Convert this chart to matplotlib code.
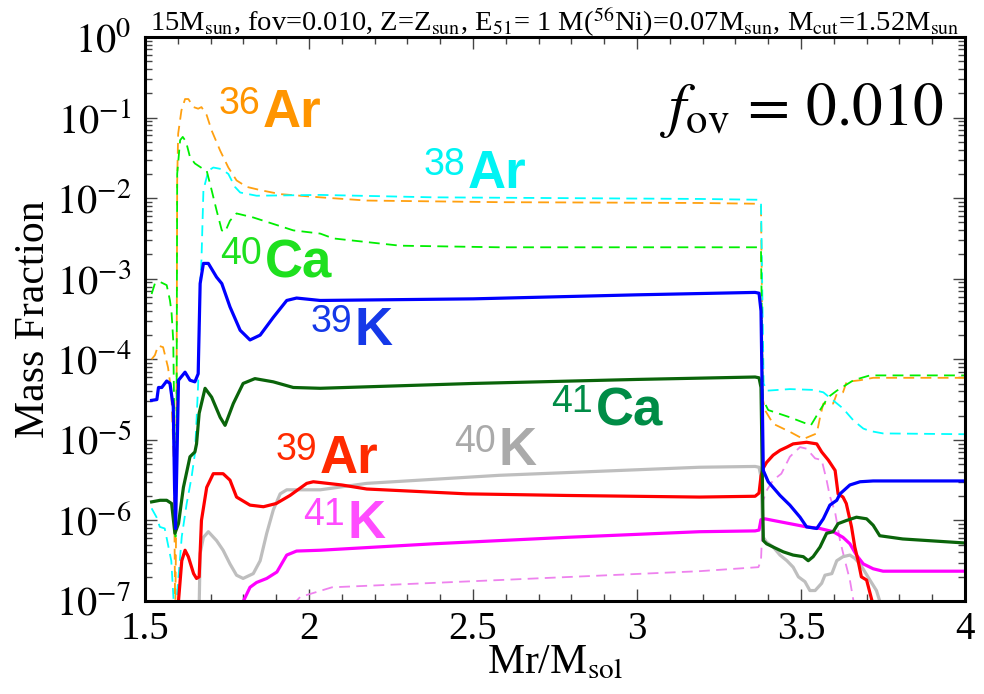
import numpy as np
import matplotlib
matplotlib.use('Agg')
import matplotlib.pyplot as plt
from matplotlib.ticker import MultipleLocator, FixedLocator, NullFormatter

plt.rcParams['font.family'] = 'serif'
plt.rcParams['font.serif'] = ['Liberation Serif', 'DejaVu Serif']
plt.rcParams['mathtext.fontset'] = 'stix'

# mass coordinate [Msun] and log10(mass fraction)
k39_x = [1.52, 1.536, 1.541, 1.551, 1.566, 1.576, 1.586, 1.590, 1.593, 1.597, 1.602, 1.622, 1.637,
         1.652, 1.662, 1.668, 1.678, 1.693, 1.718, 1.734, 1.759, 1.790, 1.820, 1.851, 1.891, 1.932,
         1.962, 2.034, 2.5, 3.0, 3.36, 3.372, 3.378, 3.385, 3.40, 3.436, 3.466, 3.497, 3.517, 3.548,
         3.568, 3.588, 3.609, 3.619, 3.649, 3.68, 3.72, 3.8, 4.0]
k39_log = [-4.51, -4.50, -4.35, -4.35, -4.27, -4.30, -4.59, -5.6, -6.10, -5.3, -4.26, -4.16, -4.26,
           -4.28, -4.18, -3.06, -2.81, -2.81, -2.98, -3.06, -3.35, -3.64, -3.76, -3.70, -3.48, -3.27,
           -3.24, -3.27, -3.25, -3.20, -3.17, -3.18, -3.40, -5.38, -5.52, -5.69, -5.81, -5.96, -6.08, -6.10,
           -5.98, -5.81, -5.75, -5.67, -5.56, -5.52, -5.51, -5.51, -5.51]

ca41_x = [1.52, 1.546, 1.566, 1.581, 1.591, 1.602, 1.617, 1.637, 1.652, 1.657, 1.665, 1.683, 1.703,
          1.729, 1.744, 1.769, 1.799, 1.835, 1.891, 1.952, 2.034, 2.5, 3.0, 3.36, 3.372, 3.378, 3.385,
          3.395, 3.415, 3.446, 3.476, 3.507, 3.522, 3.537, 3.558, 3.578, 3.598, 3.613, 3.639, 3.669,
          3.70, 3.72, 3.74, 3.81, 4.0]
ca41_log = [-5.77, -5.75, -5.75, -5.79, -6.16, -6.04, -5.59, -5.21, -5.15, -5.05, -4.67, -4.36, -4.47,
            -4.72, -4.82, -4.55, -4.30, -4.24, -4.28, -4.35, -4.36, -4.30, -4.25, -4.22, -4.23, -4.35, -6.25,
            -6.29, -6.33, -6.39, -6.43, -6.45, -6.50, -6.45, -6.33, -6.16, -6.14, -6.04, -6.00, -5.96,
            -5.98, -6.06, -6.19, -6.23, -6.28]

ar39_x = [1.598, 1.602, 1.612, 1.622, 1.632, 1.648, 1.657, 1.665, 1.672, 1.688, 1.708, 1.738, 1.759,
          1.779, 1.820, 1.861, 1.900, 1.942, 1.993, 2.013, 2.10, 2.176, 2.48, 2.785, 3.19, 3.36, 3.372,
          3.378, 3.385, 3.395, 3.415, 3.436, 3.457, 3.476, 3.517, 3.548, 3.563, 3.583, 3.604, 3.613,
          3.628, 3.638, 3.654, 3.664, 3.674, 3.684, 3.70, 3.716, 3.73]
ar39_log = [-7.5, -7.0, -6.50, -6.37, -6.45, -6.66, -6.72, -6.70, -6.00, -5.59, -5.42, -5.42, -5.50,
            -5.71, -5.81, -5.83, -5.79, -5.69, -5.54, -5.52, -5.56, -5.61, -5.67, -5.69, -5.71, -5.70, -5.66,
            -5.45, -5.35, -5.28, -5.19, -5.13, -5.09, -5.05, -5.03, -5.05, -5.15, -5.25, -5.38, -5.67,
            -5.71, -5.79, -6.08, -6.33, -6.50, -6.70, -6.74, -6.99, -7.5]

k40_x = [1.663, 1.668, 1.678, 1.693, 1.718, 1.738, 1.759, 1.779, 1.799, 1.830, 1.851, 1.871, 1.891,
         1.912, 1.932, 2.034, 2.176, 2.58, 3.19, 3.36, 3.372, 3.378, 3.382, 3.385, 3.395, 3.415, 3.436,
         3.457, 3.476, 3.492, 3.512, 3.527, 3.543, 3.563, 3.573, 3.594, 3.609, 3.628, 3.649, 3.664,
         3.68, 3.695, 3.71, 3.73, 3.74, 3.75]
k40_log = [-7.5, -6.41, -6.21, -6.14, -6.25, -6.37, -6.54, -6.68, -6.72, -6.66, -6.50, -6.16, -5.87,
           -5.67, -5.62, -5.62, -5.54, -5.44, -5.34, -5.33, -5.34, -5.46, -6.0, -6.21, -6.27, -6.33, -6.43,
           -6.50, -6.58, -6.70, -6.76, -6.87, -6.87, -6.78, -6.68, -6.66, -6.50, -6.45, -6.43, -6.47,
           -6.54, -6.64, -6.74, -6.87, -7.0, -7.3]

k41_x = [1.795, 1.80, 1.82, 1.84, 1.871, 1.902, 1.932, 1.962, 2.034, 2.379, 2.785, 3.19, 3.36, 3.372,
         3.378, 3.39, 3.415, 3.466, 3.517, 3.558, 3.598, 3.628, 3.649, 3.669, 3.69, 3.72, 3.75, 4.0]
k41_log = [-7.5, -7.0, -6.83, -6.77, -6.72, -6.64, -6.43, -6.38, -6.37, -6.29, -6.21, -6.14, -6.13, -6.12,
           -5.99, -5.98, -6.00, -6.04, -6.08, -6.10, -6.14, -6.21, -6.29, -6.43, -6.54, -6.60, -6.63, -6.63]

ar36_x = [1.52, 1.53, 1.54, 1.555, 1.57, 1.58, 1.588, 1.592, 1.595, 1.598, 1.601, 1.611, 1.622, 1.632,
          1.648, 1.662, 1.672, 1.688, 1.703, 1.729, 1.754, 1.779, 1.81, 1.851, 1.912, 2.034, 2.176,
          2.58, 3.19, 3.37, 3.378, 3.384, 3.39, 3.415, 3.466, 3.507, 3.548, 3.558, 3.568, 3.583, 3.598,
          3.609, 3.628, 3.639, 3.68, 3.72, 4.0]
ar36_log = [-4.0, -3.95, -3.83, -3.85, -4.1, -4.4, -5.3, -7.2, -6.0, -1.78, -1.20, -0.91, -0.77, -0.77,
            -0.87, -0.89, -0.87, -0.97, -1.16, -1.41, -1.62, -1.78, -1.86, -1.90, -1.95, -1.99, -2.03,
            -2.05, -2.06, -2.07, -2.1, -4.5, -4.63, -4.80, -4.90, -4.99, -4.92, -4.72, -4.55, -4.55, -4.55,
            -4.43, -4.41, -4.28, -4.26, -4.23, -4.23]

ca40_x = [1.52, 1.53, 1.546, 1.566, 1.576, 1.581, 1.586, 1.590, 1.593, 1.596, 1.598, 1.607, 1.615,
          1.625, 1.637, 1.652, 1.678, 1.688, 1.703, 1.718, 1.734, 1.744, 1.759, 1.779, 1.83, 1.891,
          1.952, 2.034, 2.074, 2.277, 2.58, 3.19, 3.37, 3.378, 3.384, 3.40, 3.466, 3.517, 3.53, 3.558,
          3.583, 3.609, 3.66, 3.71, 4.0]
ca40_log = [-3.19, -3.06, -3.04, -3.08, -3.27, -3.43, -3.77, -5.0, -6.2, -5.0, -1.70, -1.28, -1.24,
            -1.30, -1.49, -1.57, -1.64, -1.66, -1.90, -2.15, -2.40, -2.42, -2.28, -2.19, -2.24, -2.32,
            -2.40, -2.44, -2.50, -2.59, -2.61, -2.61, -2.61, -2.65, -4.5, -4.63, -4.72, -4.80, -4.82, -4.63,
            -4.47, -4.39, -4.26, -4.20, -4.20]

ar38_x = [1.52, 1.535, 1.545, 1.56, 1.58, 1.59, 1.596, 1.612, 1.627, 1.642, 1.652, 1.657, 1.662, 1.668,
          1.672, 1.678, 1.693, 1.708, 1.734, 1.754, 1.774, 1.79, 1.84, 2.034, 2.379, 3.19, 3.37, 3.378,
          3.386, 3.395, 3.466, 3.537, 3.568, 3.598, 3.628, 3.66, 3.69, 3.71, 3.75, 4.0]
ar38_log = [-5.85, -5.96, -6.08, -6.10, -6.5, -7.2, -7.0, -6.2, -5.79, -5.46, -5.17, -4.76, -4.30, -3.06,
            -2.77, -1.90, -1.66, -1.62, -1.64, -1.70, -1.86, -1.93, -1.97, -1.96, -1.99, -2.01, -2.02, -2.05,
            -4.3, -4.39, -4.37, -4.38, -4.41, -4.51, -4.61, -4.76, -4.86, -4.89, -4.92, -4.93]

ar40_x = [1.95, 1.973, 2.07, 2.58, 3.19, 3.37, 3.378, 3.385, 3.395, 3.415, 3.44, 3.466, 3.497, 3.517,
          3.543, 3.563, 3.578, 3.588, 3.604, 3.619, 3.634, 3.649, 3.66]
ar40_log = [-7.05, -6.95, -6.83, -6.74, -6.63, -6.58, -6.5, -5.75, -5.63, -5.50, -5.42, -5.21, -5.09,
            -5.11, -5.23, -5.25, -5.50, -5.70, -5.90, -6.25, -6.50, -6.74, -7.0]

# isotope labels: mass number, element, colour, anchor (x, y)
lab_mass = ['36', '38', '40', '39', '41', '39', '40', '41']
lab_elem = ['Ar', 'Ar', 'Ca', 'K', 'Ca', 'Ar', 'K', 'K']
lab_color = ['#FF9500', '#00F4F4', '#1EE01E', '#1538E8', '#008C46', '#FF2A00', '#AAAAAA', '#FF4CFF']
lab_x = [1.857, 2.482, 1.863, 2.137, 2.872, 2.03, 2.576, 2.116]
lab_y = [0.0753, 0.0132, 1.04e-3, 1.49e-4, 1.51e-5, 3.85e-6, 4.84e-6, 6.0e-7]

fig = plt.figure(figsize=(9.84, 6.94), dpi=100)
ax = fig.add_axes([0.1474, 0.134, 0.8333, 0.8127])

dash = dict(lw=1.3, dashes=(6, 3.5))
ax.plot(ar36_x, 10**np.array(ar36_log), color='#FFA010', **dash)
ax.plot(ar38_x, 10**np.array(ar38_log), color='#00FFFF', **dash)
ax.plot(ca40_x, 10**np.array(ca40_log), color='#00EE00', **dash)
ax.plot(ar40_x, 10**np.array(ar40_log), color='#EE82EE', **dash)

solid = dict(lw=2.3)
ax.plot(k40_x, 10**np.array(k40_log), color='#BEBEBE', **solid)
ax.plot(k41_x, 10**np.array(k41_log), color='#FF00FF', **solid)
ax.plot(ar39_x, 10**np.array(ar39_log), color='#FF0000', **solid)
ax.plot(ca41_x, 10**np.array(ca41_log), color='#0A640A', **solid)
ax.plot(k39_x, 10**np.array(k39_log), color='#0000FF', **solid)

ax.set_yscale('log')
ax.set_xlim(1.5, 4)
ax.set_ylim(1e-7, 1)

decades = np.arange(-7, 1)
ax.set_xticks([1.5, 2, 2.5, 3, 3.5, 4], ['1.5', '2', '2.5', '3', '3.5', '4'])
ax.xaxis.set_minor_locator(MultipleLocator(0.1))
ax.xaxis.set_minor_formatter(NullFormatter())
ax.set_yticks(10.0**decades, [r'$10^{%d}$' % d for d in decades])
ax.yaxis.set_minor_locator(FixedLocator([m * 10.0**d for d in decades[:-1] for m in range(2, 10)]))
ax.yaxis.set_minor_formatter(NullFormatter())

ax.tick_params(which='both', direction='in', top=True, right=True, color='#444444', width=1.0)
ax.tick_params(which='major', length=8.5)
ax.tick_params(which='minor', length=5)
ax.tick_params(axis='y', labelsize=29, pad=10)
ax.tick_params(axis='x', labelsize=28, pad=7)
for s in ax.spines.values():
    s.set_linewidth(2.2)

ax.set_ylabel('Mass Fraction', fontsize=30, labelpad=2)
ax.set_xlabel(r'Mr/M$_{\rm sol}$', fontsize=30, labelpad=-3)

ax.text(0.5, 1.011,
        r'15M$_{\rm sun}$, fov=0.010, Z=Z$_{\rm sun}$, E$_{51}$= 1 M($^{56}$Ni)=0.07M$_{\rm sun}$, M$_{\rm cut}$=1.52M$_{\rm sun}$',
        transform=ax.transAxes, ha='center', va='baseline', fontsize=20.5)

ax.text(0.628, 0.844, r'$f_{\rm ov} \,=\, 0.010$', transform=ax.transAxes,
        ha='left', va='baseline', fontsize=44)

for m, e, c, x, y in zip(lab_mass, lab_elem, lab_color, lab_x, lab_y):
    ax.annotate(m, xy=(x, y), xytext=(-1.5, 9.5), textcoords='offset points',
                ha='right', va='baseline', color=c, fontsize=27, family='Liberation Sans')
    ax.annotate(e, xy=(x, y), xytext=(0.5, 0), textcoords='offset points',
                ha='left', va='baseline', color=c, fontsize=38, fontweight='bold',
                family='Liberation Sans')

fig.savefig('out.png', dpi=100)
